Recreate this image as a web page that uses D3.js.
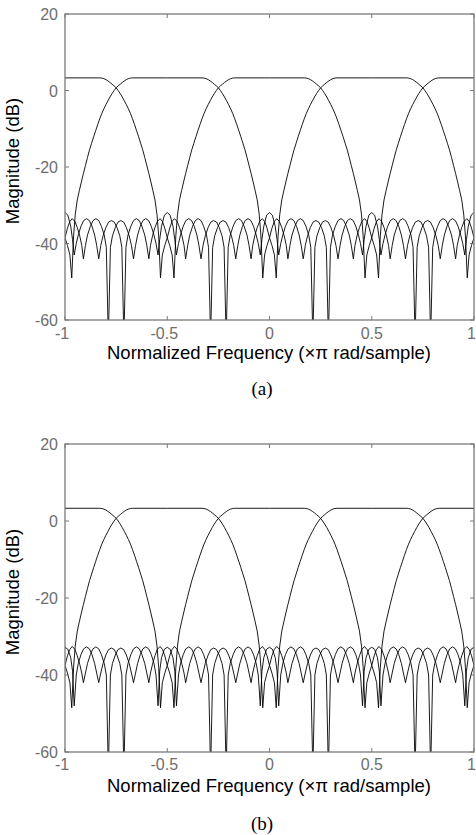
<!DOCTYPE html>
<html>
<head>
<meta charset="utf-8">
<script src="https://cdn.jsdelivr.net/npm/d3@7"></script>
<style>
  body{margin:0;background:#fff}
  svg{display:block}
</style>
</head>
<body>
<svg id="chart" width="476" height="835"></svg>
<script>
// band centres of the 4-channel bank (x pi rad/sample); 1 and -1 are the same band
const centers = [-0.5, 0, 0.5, 1];
const xTicks = [-1, -0.5, 0, 0.5, 1];
const yTicks = [20, 0, -20, -40, -60];

// main lobe: [distance from band centre, dB]
const mainLobe = [
  [0,3.3],[0.17,3.3],[0.18,3.25],[0.19,3.1],[0.2,2.85],[0.21,2.5],[0.22,2.1],[0.23,1.65],
  [0.24,1.2],[0.25,0.7],[0.26,0],[0.27,-0.8],[0.28,-1.7],[0.29,-2.7],[0.3,-3.7],[0.31,-4.8],
  [0.32,-6],[0.33,-7.4],[0.34,-8.9],[0.35,-10.5],[0.36,-12.1],[0.37,-13.8],[0.38,-15.5],
  [0.39,-17.5],[0.4,-19.6],[0.41,-21.7],[0.42,-23.9],[0.43,-26.2],[0.44,-28.6],[0.45,-32.5],
  [0.458,-38]
];
// stopband side lobes, panel (a)
const stopA = [
  [0.467,-49],[0.476,-43],[0.488,-40.5],[0.5,-38.5],[0.512,-36],[0.523,-34.3],[0.535,-33.5],
  [0.548,-34.2],[0.56,-35.8],[0.572,-38],[0.582,-40.5],
  [0.59,-44],[0.6,-40.5],[0.61,-37.8],[0.624,-35.5],[0.637,-34],[0.651,-33.5],[0.665,-34],
  [0.678,-35.5],[0.692,-37.8],[0.702,-41],
  [0.712,-65],[0.722,-41],[0.732,-38],[0.746,-35.8],[0.759,-34.4],[0.773,-34],[0.787,-34.4],
  [0.8,-35.8],[0.814,-38],[0.825,-40.5],
  [0.835,-44],[0.845,-40.5],[0.855,-37.8],[0.868,-35.5],[0.881,-34],[0.895,-33.5],[0.909,-34],
  [0.922,-35.5],[0.935,-37.8],[0.945,-40],
  [0.955,-43],[0.963,-39],[0.972,-35.5],[0.986,-32.6],[1,-31.9]
];
// stopband side lobes, panel (b)
const stopB = [
  [0.467,-48.5],[0.476,-42],[0.488,-39.5],[0.5,-37.5],[0.512,-35],[0.523,-33.4],[0.535,-32.6],
  [0.548,-33.3],[0.56,-35],[0.572,-37.2],[0.582,-39.5],
  [0.59,-42],[0.6,-39.5],[0.61,-37],[0.624,-34.7],[0.637,-33.2],[0.651,-32.7],[0.665,-33.2],
  [0.678,-34.7],[0.692,-37],[0.702,-40],
  [0.712,-65],[0.722,-40],[0.732,-37],[0.746,-34.8],[0.759,-33.4],[0.773,-33],[0.787,-33.4],
  [0.8,-34.8],[0.814,-37],[0.825,-39.5],
  [0.835,-42],[0.845,-39.5],[0.855,-37],[0.868,-34.7],[0.881,-33.2],[0.895,-32.7],[0.909,-33.2],
  [0.922,-34.7],[0.935,-37],[0.945,-40],
  [0.955,-48],[0.963,-39],[0.972,-35.5],[0.986,-33.3],[1,-32.8]
];

const W = 476, left = 65, right = 474;
const panels = [
  {proto: mainLobe.concat(stopA), top: 14, bottom: 320, tickY: 339, labelY: 359, cap: '(a)', capY: 395},
  {proto: mainLobe.concat(stopB), top: 444, bottom: 752, tickY: 770, labelY: 792, cap: '(b)', capY: 830}
];

const svg = d3.select('#chart');
const x = d3.scaleLinear().domain([-1, 1]).range([left, right]);
const sans = 'Liberation Sans, Arial, Helvetica, sans-serif';

function bandPoints(proto, c){
  const pts = [];
  proto.forEach(([d, v])=>{
    [c + d, c - d].forEach(f=>{
      if(f > 1 + 1e-9) f -= 2;
      if(f < -1 - 1e-9) f += 2;
      pts.push([f, v]);
      if(Math.abs(f - 1) < 1e-9) pts.push([-1, v]);
      if(Math.abs(f + 1) < 1e-9) pts.push([1, v]);
    });
  });
  return pts.sort((a, b)=>a[0] - b[0]);
}

panels.forEach((p, i)=>{
  const y = d3.scaleLinear().domain([-60, 20]).range([p.bottom, p.top]);
  const g = svg.append('g');
  const clipId = 'clip' + i;
  svg.append('clipPath').attr('id', clipId).append('rect')
    .attr('x', left).attr('y', p.top).attr('width', right - left).attr('height', p.bottom - p.top);

  const line = d3.line().x(d=>x(d[0])).y(d=>y(d[1]));
  const curves = g.append('g').attr('clip-path', `url(#${clipId})`);
  centers.forEach(c=>{
    curves.append('path').attr('d', line(bandPoints(p.proto, c)))
      .attr('fill', 'none').attr('stroke', '#000').attr('stroke-width', 0.9);
  });

  // frame and inward ticks, MATLAB style
  const axCol = '#7a7a7a';
  g.append('rect').attr('x', left).attr('y', p.top).attr('width', right - left).attr('height', p.bottom - p.top)
    .attr('fill', 'none').attr('stroke', axCol).attr('stroke-width', 1.3);
  xTicks.forEach(t=>{
    g.append('line').attr('x1', x(t)).attr('x2', x(t)).attr('y1', p.bottom).attr('y2', p.bottom - 4).attr('stroke', axCol);
    g.append('line').attr('x1', x(t)).attr('x2', x(t)).attr('y1', p.top).attr('y2', p.top + 4).attr('stroke', axCol);
    g.append('text')
      .attr('x', t === 1 ? W : x(t) - (t < 0 ? 3 : 0)).attr('y', p.tickY)
      .attr('text-anchor', t === 1 ? 'end' : 'middle')
      .attr('font-family', sans).attr('font-size', 16).attr('fill', '#6e6e6e')
      .text(t);
  });
  yTicks.forEach(t=>{
    g.append('line').attr('x1', left).attr('x2', left + 4).attr('y1', y(t)).attr('y2', y(t)).attr('stroke', axCol);
    g.append('line').attr('x1', right).attr('x2', right - 4).attr('y1', y(t)).attr('y2', y(t)).attr('stroke', axCol);
    g.append('text').attr('x', 58).attr('y', y(t) + 6).attr('text-anchor', 'end')
      .attr('font-family', sans).attr('font-size', 16).attr('fill', '#6e6e6e')
      .text(t);
  });

  g.append('text').attr('x', 269).attr('y', p.labelY).attr('text-anchor', 'middle')
    .attr('font-family', sans).attr('font-size', 18.5).attr('fill', '#000')
    .attr('textLength', 324).attr('lengthAdjust', 'spacing')
    .text('Normalized Frequency (\u00d7\u03c0 rad/sample)');
  g.append('text').attr('transform', `translate(19,${(p.top + p.bottom) / 2 - 6}) rotate(-90)`)
    .attr('text-anchor', 'middle')
    .attr('font-family', sans).attr('font-size', 18.5).attr('fill', '#000')
    .text('Magnitude (dB)');
  g.append('text').attr('x', 262).attr('y', p.capY).attr('text-anchor', 'middle')
    .attr('font-family', 'Liberation Serif, Times New Roman, serif').attr('font-size', 19).attr('fill', '#000')
    .text(p.cap);
});
</script>
</body>
</html>
